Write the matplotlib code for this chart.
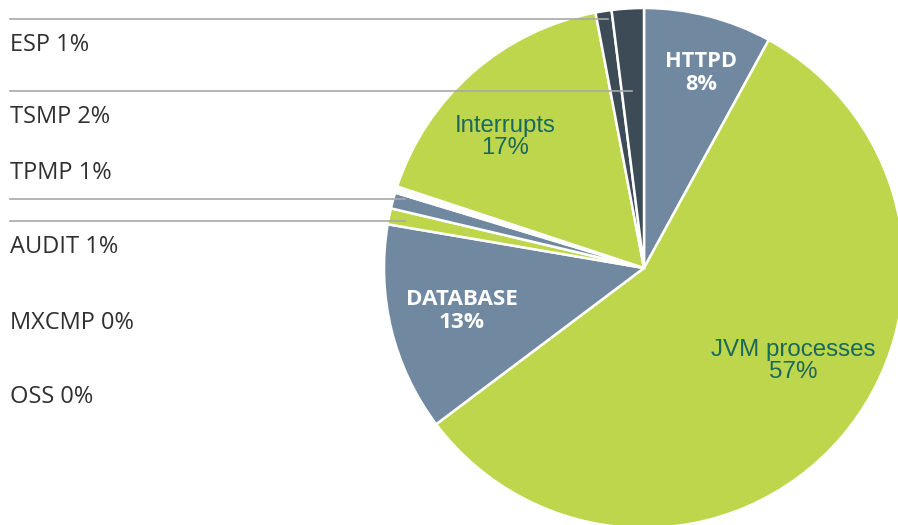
import matplotlib.pyplot as plt

# dados do grafico (sentido horario a partir do topo)
fatias = ['HTTPD', 'JVM processes', 'DATABASE', 'AUDIT', 'TPMP', 'MXCMP', 'OSS',
          'Interrupts', 'ESP', 'TSMP']
valores = [8, 57, 13, 1, 1, 0.2, 0.2, 17, 1, 2]
cores = ['#7089a0', '#bdd64b', '#7089a0', '#bdd64b', '#7089a0', '#ffffff', '#ffffff',
         '#bdd64b', '#3d4b57', '#3d4b57']

legenda = ['ESP 1%', 'TSMP 2%', 'TPMP 1%', 'AUDIT 1%', 'MXCMP 0%', 'OSS 0%']
legenda_y = [45, 117, 173, 247, 323, 397]

W, H = 898, 525
fig = plt.figure(figsize=(W / 100, H / 100), dpi=100)
ax = fig.add_axes([0, 0, 1, 1])

cx, cy, raio = 644, H - 268, 260
ax.pie(valores, colors=cores, startangle=90, counterclock=False,
       center=(cx, cy), radius=raio,
       wedgeprops=dict(edgecolor='white', linewidth=1.8))

ax.set_xlim(0, W)
ax.set_ylim(0, H)
ax.set_aspect('equal')
ax.axis('off')

# linhas de chamada
for y, x_fim in [(19, 608), (91, 632), (199, 405), (221, 405)]:
    ax.plot([10, x_fim], [H - y, H - y], color='#a8a8a8', lw=1.2)

for txt, y in zip(legenda, legenda_y):
    ax.text(10, H - y, txt, fontsize=17, family='Open Sans', color='#303030',
            va='center', ha='left')

# rotulos dentro das fatias
ax.text(701, H - 73, 'HTTPD\n8%', fontsize=15.7, family='Open Sans', weight='bold',
        color='white', ha='center', va='center', linespacing=1.15)
ax.text(462, H - 311, 'DATABASE\n13%', fontsize=16.2, family='Open Sans', weight='bold',
        color='white', ha='center', va='center', linespacing=1.15)
ax.text(505, H - 137, 'Interrupts\n17%', fontsize=17.2, family='Liberation Sans',
        color='#1b685c', ha='center', va='center', linespacing=1.05)
ax.text(793, H - 361, 'JVM processes\n57%', fontsize=17.4, family='Liberation Sans',
        color='#1b685c', ha='center', va='center', linespacing=1.05)

fig.savefig('out.png', dpi=100)
